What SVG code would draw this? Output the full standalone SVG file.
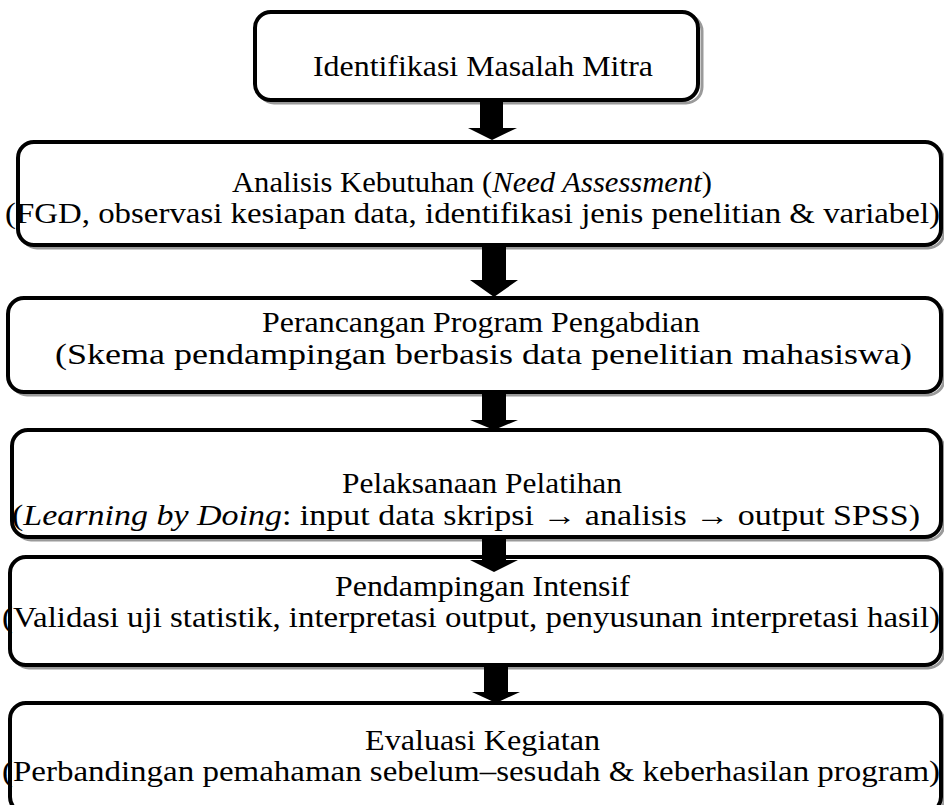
<svg xmlns="http://www.w3.org/2000/svg" width="944" height="805" viewBox="0 0 944 805">
<style>
.box{fill:#fff;stroke:#000;stroke-width:4}
.sh{fill:none;stroke:#9a9a9a;stroke-width:3}
.t{font-size:29px;fill:#000}
.i{font-style:italic}
.arr{fill:#000}
</style>
<rect width="944" height="805" fill="#fff"/>
<g font-family="'Liberation Serif', 'Times New Roman', Tinos, 'DejaVu Serif', serif">
<g id="n1">
<rect class="sh" x="258" y="15" width="444" height="88" rx="16"/>
<rect class="box" x="255" y="12" width="443" height="88" rx="16"/>
<text class="t" x="313" y="76" textLength="340" lengthAdjust="spacingAndGlyphs">Identifikasi Masalah Mitra</text>
</g>
<g id="n2">
<rect class="sh" x="21" y="145" width="923" height="103" rx="16"/>
<rect class="box" x="18" y="142" width="923" height="103" rx="16"/>
<text class="t" x="232" y="192" textLength="480" lengthAdjust="spacingAndGlyphs">Analisis Kebutuhan (<tspan class="i">Need Assessment</tspan>)</text>
<text class="t" x="5" y="223" textLength="935" lengthAdjust="spacingAndGlyphs">(FGD, observasi kesiapan data, identifikasi jenis penelitian &amp; variabel)</text>
</g>
<g id="n3">
<rect class="sh" x="11" y="301" width="933" height="94" rx="16"/>
<rect class="box" x="8" y="298" width="933" height="94" rx="16"/>
<text class="t" x="262" y="332" textLength="438" lengthAdjust="spacingAndGlyphs">Perancangan Program Pengabdian</text>
<text class="t" x="55" y="364" textLength="857" lengthAdjust="spacingAndGlyphs">(Skema pendampingan berbasis data penelitian mahasiswa)</text>
</g>
<g id="n4">
<rect class="sh" x="15" y="433" width="929" height="107" rx="16"/>
<rect class="box" x="12" y="430" width="929" height="107" rx="16"/>
<text class="t" x="342" y="493" textLength="280" lengthAdjust="spacingAndGlyphs">Pelaksanaan Pelatihan</text>
<text class="t" x="12" y="525" textLength="908" lengthAdjust="spacingAndGlyphs">(<tspan class="i">Learning by Doing</tspan>: input data skripsi → analisis → output SPSS)</text>
</g>
<g id="n5">
<rect class="sh" x="13" y="560" width="931" height="108" rx="16"/>
<rect class="box" x="10" y="557" width="931" height="108" rx="16"/>
<text class="t" x="335" y="596" textLength="295" lengthAdjust="spacingAndGlyphs">Pendampingan Intensif</text>
<text class="t" x="2" y="627" textLength="938" lengthAdjust="spacingAndGlyphs">(Validasi uji statistik, interpretasi output, penyusunan interpretasi hasil)</text>
</g>
<g id="n6">
<rect class="sh" x="13" y="706" width="931" height="110" rx="16"/>
<rect class="box" x="10" y="703" width="931" height="110" rx="16"/>
<text class="t" x="365" y="750" textLength="235" lengthAdjust="spacingAndGlyphs">Evaluasi Kegiatan</text>
<text class="t" x="2" y="781" textLength="938" lengthAdjust="spacingAndGlyphs">(Perbandingan pemahaman sebelum–sesudah &amp; keberhasilan program)</text>
</g>
</g>
<g id="connectors">
<polygon class="arr" points="480,101 503,101 503,128 517,128 492,140 468,128 480,128"/>
<polygon class="arr" points="482,246 506,246 506,280 518,280 494,297 470,280 482,280"/>
<polygon class="arr" points="482,393 506,393 506,420 518,420 494,430 470,420 482,420"/>
<polygon class="arr" points="482,538 506,538 506,560 518,560 494,572 470,560 482,560"/>
<polygon class="arr" points="484,666 508,666 508,692 520,692 496,703 472,692 484,692"/>
</g>
</svg>
